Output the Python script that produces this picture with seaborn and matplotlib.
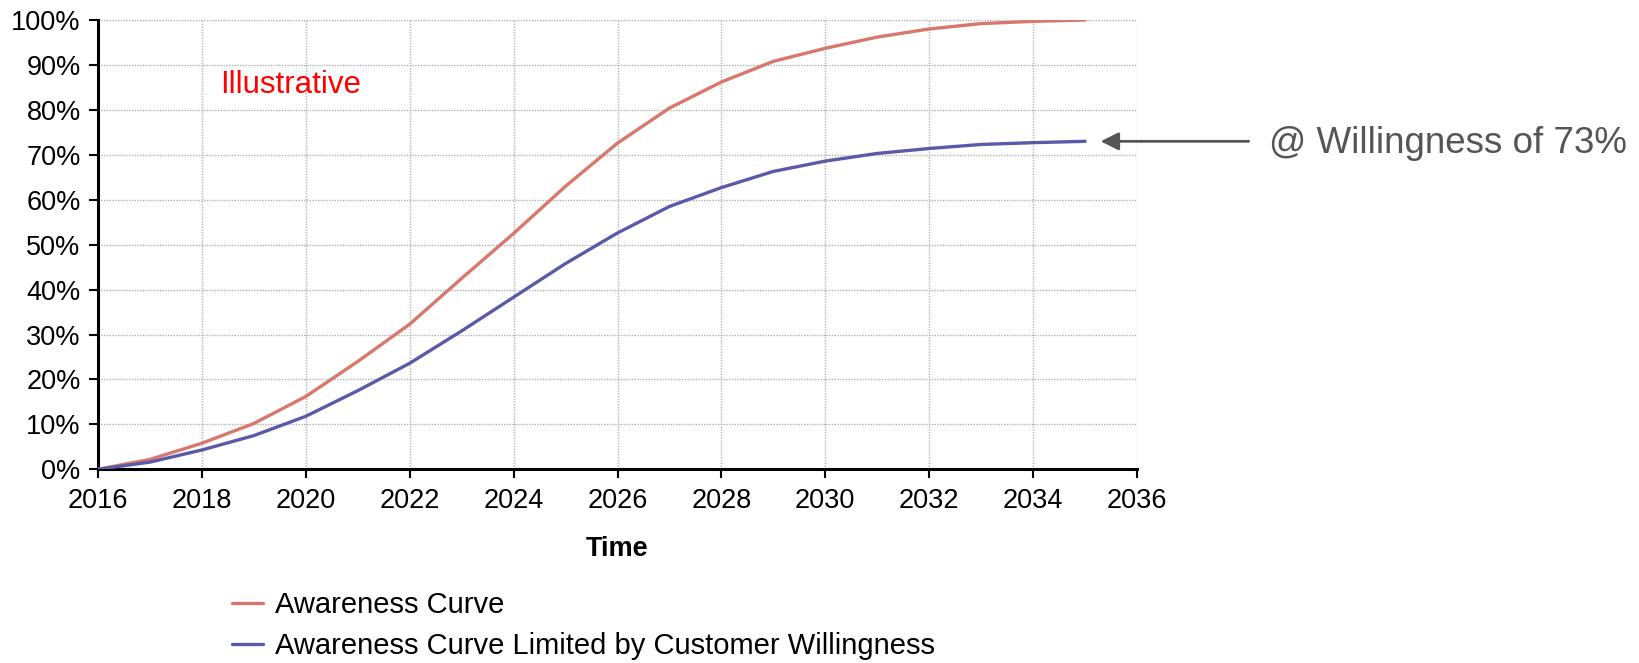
import numpy as np
import pandas as pd
import matplotlib
matplotlib.use("Agg")
import matplotlib.pyplot as plt
import seaborn as sns
from matplotlib.ticker import PercentFormatter, MultipleLocator

# Yearly adoption shares (fraction of market)
years = list(range(2016, 2036))
awareness = [0.000, 0.022, 0.058, 0.102, 0.162, 0.240, 0.323, 0.425, 0.525, 0.630,
             0.726, 0.804, 0.862, 0.908, 0.937, 0.962, 0.980, 0.992, 0.997, 1.000]
limited = [0.000, 0.016, 0.043, 0.075, 0.118, 0.175, 0.236, 0.308, 0.383, 0.458,
           0.526, 0.585, 0.627, 0.663, 0.686, 0.703, 0.714, 0.723, 0.727, 0.730]

series_names = ["Awareness Curve", "Awareness Curve Limited by Customer Willingness"]
x_ticks = list(range(2016, 2037, 2))
willingness = 0.73

sns.set_theme(style="white")
plt.rcParams["font.family"] = ["Liberation Sans", "DejaVu Sans"]
plt.rcParams["text.color"] = "black"
plt.rcParams["axes.labelcolor"] = "black"

df = pd.DataFrame({
    "Time": years * 2,
    "Share": awareness + limited,
    "Series": [series_names[0]] * len(years) + [series_names[1]] * len(years),
})

fig = plt.figure(figsize=(16.39, 6.63), dpi=100)
ax = fig.add_axes([98 / 1639, 1 - 469.3 / 663, (1137 - 98) / 1639, (469.3 - 20) / 663])

palette = {series_names[0]: "#d8776c", series_names[1]: "#5a5aa8"}
sns.lineplot(data=df, x="Time", y="Share", hue="Series", palette=palette,
             linewidth=2.4, ax=ax, legend=False, zorder=3)

ax.set_xlim(2016, 2036)
ax.set_ylim(0, 1)
ax.set_xticks(x_ticks)
ax.yaxis.set_major_locator(MultipleLocator(0.1))
ax.yaxis.set_major_formatter(PercentFormatter(1.0, decimals=0))

ax.grid(True, color="#b0b0b0", linestyle=(0, (1, 1)), linewidth=1.0, zorder=0)
ax.set_axisbelow(True)

for side in ["top", "right"]:
    ax.spines[side].set_visible(False)
for side in ["left", "bottom"]:
    ax.spines[side].set_color("black")
    ax.spines[side].set_linewidth(2.2)

ax.tick_params(axis="both", direction="out", length=6.5, width=1.5, color="black",
               labelsize=19.5, labelcolor="black", pad=6)
ax.tick_params(axis="x", pad=7)
ax.tick_params(axis="x", bottom=True)
ax.tick_params(axis="y", left=True)

ax.set_xlabel("Time", fontsize=19.5, fontweight="bold", labelpad=16, color="black")
ax.set_ylabel("")

ax.text(2018.35, 0.855, "Illustrative", color="#ff0000", fontsize=22.5,
        va="center", ha="left")

ax.annotate("", xy=(2035.3, willingness), xytext=(2038.15, willingness),
            arrowprops=dict(arrowstyle="-|>,head_length=0.9,head_width=0.45",
                            color="#555555", lw=2.0, shrinkA=0, shrinkB=0),
            annotation_clip=False)
ax.text(2038.55, willingness - 0.004, "@ Willingness of 73%", color="#555555",
        fontsize=26.5, va="center", ha="left", clip_on=False)

handles = [plt.Line2D([], [], color=palette[n], linewidth=2.4) for n in series_names]
fig.legend(handles, series_names, loc="upper left",
           bbox_to_anchor=(232 / 1639, 1 - 591 / 663), frameon=False,
           fontsize=21, handlelength=1.05, handletextpad=0.42,
           labelspacing=0.45, borderpad=0, borderaxespad=0, labelcolor="black")

fig.savefig("out.png", dpi=100)
